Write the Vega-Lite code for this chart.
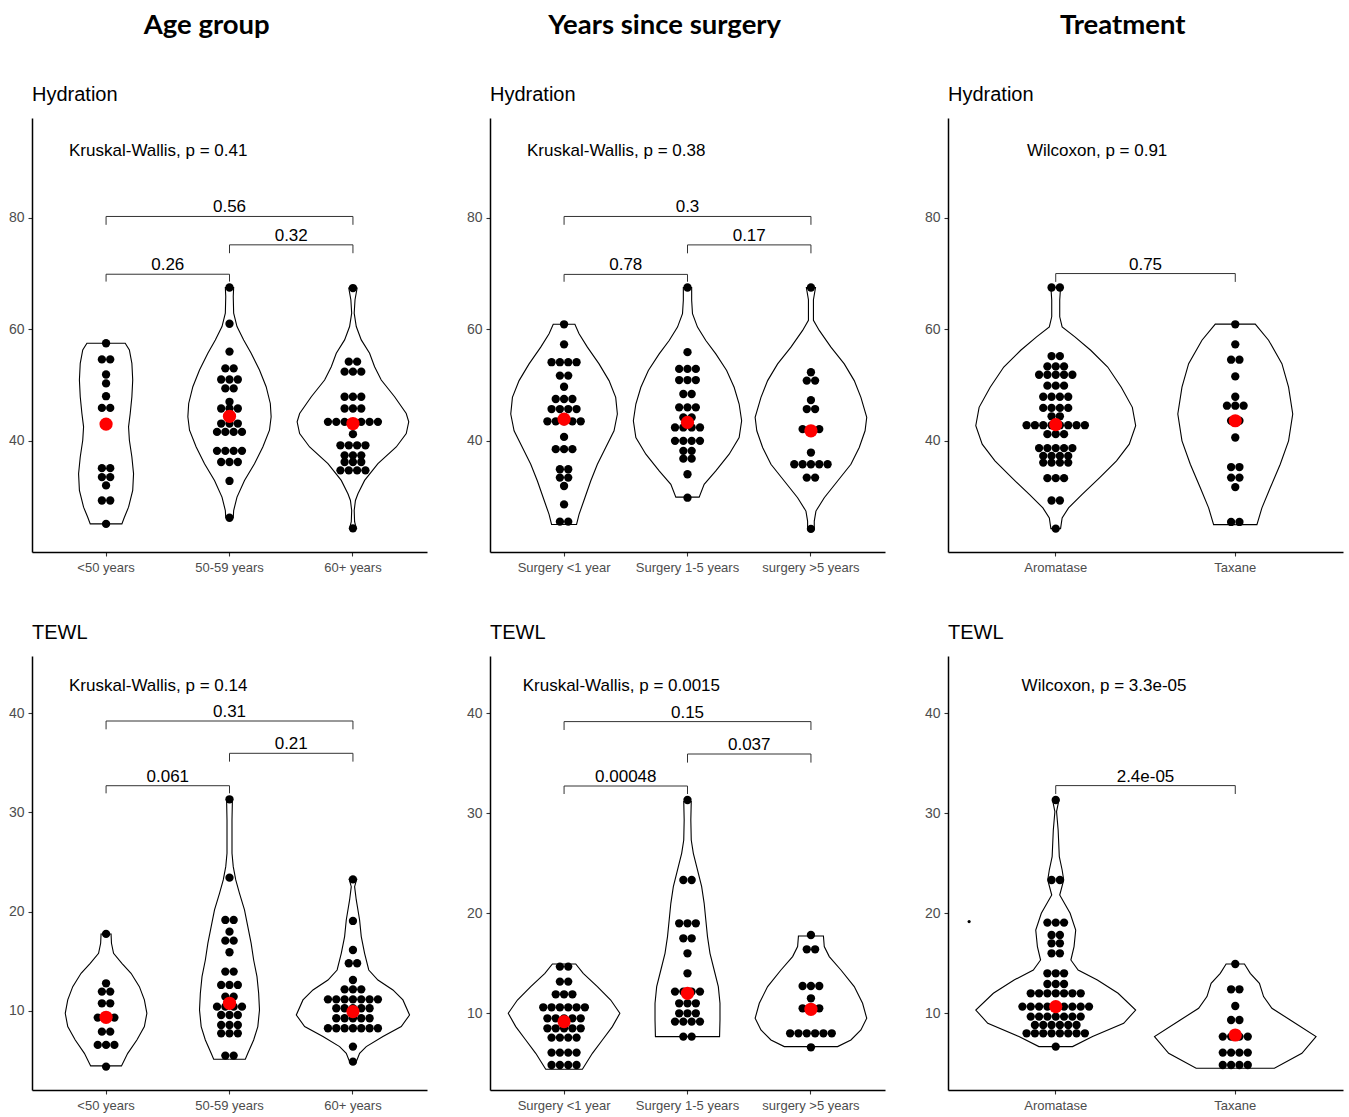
{
"$schema": "https://vega.github.io/schema/vega-lite/v6.json",
"padding": {"left": 8, "top": 11, "right": 5, "bottom": 5},
"config": {
  "view": {"stroke": null},
  "font": "Liberation Sans",
  "axis": {"grid": false, "domainColor": "#000", "domainWidth": 1.5, "tickColor": "#333", "tickSize": 4, "tickWidth": 1.1, "labelColor": "#4d4d4d", "labelFontSize": 13, "labelFont": "Liberation Sans"},
  "axisX": {"labelPadding": 5, "labelAngle": 0},
  "axisY": {"labelPadding": 4, "labelFontSize": 14},
  "title": {"font": "Liberation Sans", "fontSize": 20, "fontWeight": "normal", "color": "#000", "anchor": "start", "frame": "group", "offset": 13}
},
"datasets": {
"violin": [
{"p":"AH","g":"<50 years","i":0,"y":25.1,"r":0,"l":0},
{"p":"AH","g":"<50 years","i":1,"y":25.1,"r":1.9,"l":-1.9},
{"p":"AH","g":"<50 years","i":2,"y":26.3,"r":2.2,"l":-2.2},
{"p":"AH","g":"<50 years","i":3,"y":28.1,"r":2.7,"l":-2.7},
{"p":"AH","g":"<50 years","i":4,"y":31.1,"r":3.2,"l":-3.2},
{"p":"AH","g":"<50 years","i":5,"y":34.1,"r":3.3,"l":-3.3},
{"p":"AH","g":"<50 years","i":6,"y":37.1,"r":3.1,"l":-3.1},
{"p":"AH","g":"<50 years","i":7,"y":40.1,"r":2.8,"l":-2.8},
{"p":"AH","g":"<50 years","i":8,"y":42.5,"r":2.7,"l":-2.7},
{"p":"AH","g":"<50 years","i":9,"y":44.9,"r":2.9,"l":-2.9},
{"p":"AH","g":"<50 years","i":10,"y":47.9,"r":3.1,"l":-3.1},
{"p":"AH","g":"<50 years","i":11,"y":50.9,"r":3.2,"l":-3.2},
{"p":"AH","g":"<50 years","i":12,"y":53.9,"r":3.1,"l":-3.1},
{"p":"AH","g":"<50 years","i":13,"y":56.3,"r":2.8,"l":-2.8},
{"p":"AH","g":"<50 years","i":14,"y":57.5,"r":2.3,"l":-2.3},
{"p":"AH","g":"<50 years","i":15,"y":57.5,"r":0,"l":0},
{"p":"AH","g":"50-59 years","i":0,"y":26.2,"r":0,"l":0},
{"p":"AH","g":"50-59 years","i":1,"y":26.2,"r":0.45,"l":-0.45},
{"p":"AH","g":"50-59 years","i":2,"y":27.5,"r":0.5,"l":-0.5},
{"p":"AH","g":"50-59 years","i":3,"y":29.9,"r":0.9,"l":-0.9},
{"p":"AH","g":"50-59 years","i":4,"y":32.9,"r":1.8,"l":-1.8},
{"p":"AH","g":"50-59 years","i":5,"y":35.9,"r":3.0,"l":-3.0},
{"p":"AH","g":"50-59 years","i":6,"y":38.9,"r":4.0,"l":-4.0},
{"p":"AH","g":"50-59 years","i":7,"y":41.9,"r":4.8,"l":-4.8},
{"p":"AH","g":"50-59 years","i":8,"y":44.3,"r":5.0,"l":-5.0},
{"p":"AH","g":"50-59 years","i":9,"y":46.7,"r":4.9,"l":-4.9},
{"p":"AH","g":"50-59 years","i":10,"y":49.7,"r":4.4,"l":-4.4},
{"p":"AH","g":"50-59 years","i":11,"y":52.7,"r":3.6,"l":-3.6},
{"p":"AH","g":"50-59 years","i":12,"y":55.7,"r":2.6,"l":-2.6},
{"p":"AH","g":"50-59 years","i":13,"y":58.1,"r":1.7,"l":-1.7},
{"p":"AH","g":"50-59 years","i":14,"y":60.5,"r":0.9,"l":-0.9},
{"p":"AH","g":"50-59 years","i":15,"y":62.9,"r":0.5,"l":-0.5},
{"p":"AH","g":"50-59 years","i":16,"y":65.9,"r":0.45,"l":-0.45},
{"p":"AH","g":"50-59 years","i":17,"y":67.5,"r":0.5,"l":-0.5},
{"p":"AH","g":"50-59 years","i":18,"y":67.5,"r":0,"l":0},
{"p":"AH","g":"60+ years","i":0,"y":24.3,"r":0,"l":0},
{"p":"AH","g":"60+ years","i":1,"y":24.3,"r":0.4,"l":-0.4},
{"p":"AH","g":"60+ years","i":2,"y":25.5,"r":0.2,"l":-0.2},
{"p":"AH","g":"60+ years","i":3,"y":27.5,"r":0.15,"l":-0.15},
{"p":"AH","g":"60+ years","i":4,"y":29.3,"r":0.3,"l":-0.3},
{"p":"AH","g":"60+ years","i":5,"y":30.5,"r":0.6,"l":-0.6},
{"p":"AH","g":"60+ years","i":6,"y":32.9,"r":1.4,"l":-1.4},
{"p":"AH","g":"60+ years","i":7,"y":35.9,"r":3.0,"l":-3.0},
{"p":"AH","g":"60+ years","i":8,"y":38.9,"r":5.2,"l":-5.2},
{"p":"AH","g":"60+ years","i":9,"y":41.3,"r":6.4,"l":-6.4},
{"p":"AH","g":"60+ years","i":10,"y":43.4,"r":6.7,"l":-6.7},
{"p":"AH","g":"60+ years","i":11,"y":44.9,"r":6.4,"l":-6.4},
{"p":"AH","g":"60+ years","i":12,"y":47.9,"r":5.0,"l":-5.0},
{"p":"AH","g":"60+ years","i":13,"y":50.9,"r":3.4,"l":-3.4},
{"p":"AH","g":"60+ years","i":14,"y":53.3,"r":2.6,"l":-2.6},
{"p":"AH","g":"60+ years","i":15,"y":55.7,"r":2.0,"l":-2.0},
{"p":"AH","g":"60+ years","i":16,"y":58.1,"r":1.0,"l":-1.0},
{"p":"AH","g":"60+ years","i":17,"y":60.5,"r":0.4,"l":-0.4},
{"p":"AH","g":"60+ years","i":18,"y":62.9,"r":0.15,"l":-0.15},
{"p":"AH","g":"60+ years","i":19,"y":65.3,"r":0.25,"l":-0.25},
{"p":"AH","g":"60+ years","i":20,"y":67.4,"r":0.5,"l":-0.5},
{"p":"AH","g":"60+ years","i":21,"y":67.4,"r":0,"l":0},
{"p":"AT","g":"<50 years","i":0,"y":4.42,"r":0,"l":0},
{"p":"AT","g":"<50 years","i":1,"y":4.42,"r":1.85,"l":-1.85},
{"p":"AT","g":"<50 years","i":2,"y":5.69,"r":2.6,"l":-2.6},
{"p":"AT","g":"<50 years","i":3,"y":7.04,"r":3.7,"l":-3.7},
{"p":"AT","g":"<50 years","i":4,"y":8.39,"r":4.6,"l":-4.6},
{"p":"AT","g":"<50 years","i":5,"y":9.73,"r":4.9,"l":-4.9},
{"p":"AT","g":"<50 years","i":6,"y":11.08,"r":4.6,"l":-4.6},
{"p":"AT","g":"<50 years","i":7,"y":12.42,"r":4.0,"l":-4.0},
{"p":"AT","g":"<50 years","i":8,"y":13.77,"r":3.0,"l":-3.0},
{"p":"AT","g":"<50 years","i":9,"y":14.78,"r":1.9,"l":-1.9},
{"p":"AT","g":"<50 years","i":10,"y":15.79,"r":0.9,"l":-0.9},
{"p":"AT","g":"<50 years","i":11,"y":16.8,"r":0.65,"l":-0.65},
{"p":"AT","g":"<50 years","i":12,"y":17.74,"r":0.6,"l":-0.6},
{"p":"AT","g":"<50 years","i":13,"y":17.74,"r":0,"l":0},
{"p":"AT","g":"50-59 years","i":0,"y":5.09,"r":0,"l":0},
{"p":"AT","g":"50-59 years","i":1,"y":5.09,"r":1.9,"l":-1.9},
{"p":"AT","g":"50-59 years","i":2,"y":5.69,"r":2.2,"l":-2.2},
{"p":"AT","g":"50-59 years","i":3,"y":7.04,"r":2.9,"l":-2.9},
{"p":"AT","g":"50-59 years","i":4,"y":8.39,"r":3.4,"l":-3.4},
{"p":"AT","g":"50-59 years","i":5,"y":10.07,"r":3.6,"l":-3.6},
{"p":"AT","g":"50-59 years","i":6,"y":11.75,"r":3.5,"l":-3.5},
{"p":"AT","g":"50-59 years","i":7,"y":13.43,"r":3.3,"l":-3.3},
{"p":"AT","g":"50-59 years","i":8,"y":15.11,"r":2.9,"l":-2.9},
{"p":"AT","g":"50-59 years","i":9,"y":16.79,"r":2.6,"l":-2.6},
{"p":"AT","g":"50-59 years","i":10,"y":18.48,"r":2.2,"l":-2.2},
{"p":"AT","g":"50-59 years","i":11,"y":20.16,"r":1.8,"l":-1.8},
{"p":"AT","g":"50-59 years","i":12,"y":21.84,"r":1.2,"l":-1.2},
{"p":"AT","g":"50-59 years","i":13,"y":23.19,"r":0.75,"l":-0.75},
{"p":"AT","g":"50-59 years","i":14,"y":24.53,"r":0.45,"l":-0.45},
{"p":"AT","g":"50-59 years","i":15,"y":25.88,"r":0.3,"l":-0.3},
{"p":"AT","g":"50-59 years","i":16,"y":29.24,"r":0.3,"l":-0.3},
{"p":"AT","g":"50-59 years","i":17,"y":31.33,"r":0.35,"l":-0.35},
{"p":"AT","g":"50-59 years","i":18,"y":31.33,"r":0,"l":0},
{"p":"AT","g":"60+ years","i":0,"y":4.85,"r":0,"l":0},
{"p":"AT","g":"60+ years","i":1,"y":4.85,"r":0.4,"l":-0.4},
{"p":"AT","g":"60+ years","i":2,"y":5.69,"r":0.8,"l":-0.8},
{"p":"AT","g":"60+ years","i":3,"y":6.37,"r":1.6,"l":-1.6},
{"p":"AT","g":"60+ years","i":4,"y":7.38,"r":3.6,"l":-3.6},
{"p":"AT","g":"60+ years","i":5,"y":8.39,"r":5.8,"l":-5.8},
{"p":"AT","g":"60+ years","i":6,"y":9.56,"r":6.8,"l":-6.8},
{"p":"AT","g":"60+ years","i":7,"y":11.08,"r":6.0,"l":-6.0},
{"p":"AT","g":"60+ years","i":8,"y":12.09,"r":4.8,"l":-4.8},
{"p":"AT","g":"60+ years","i":9,"y":13.09,"r":3.0,"l":-3.0},
{"p":"AT","g":"60+ years","i":10,"y":14.1,"r":1.9,"l":-1.9},
{"p":"AT","g":"60+ years","i":11,"y":15.79,"r":1.4,"l":-1.4},
{"p":"AT","g":"60+ years","i":12,"y":17.47,"r":1.0,"l":-1.0},
{"p":"AT","g":"60+ years","i":13,"y":19.15,"r":0.8,"l":-0.8},
{"p":"AT","g":"60+ years","i":14,"y":21.17,"r":0.4,"l":-0.4},
{"p":"AT","g":"60+ years","i":15,"y":22.51,"r":0.2,"l":-0.2},
{"p":"AT","g":"60+ years","i":16,"y":23.25,"r":0.45,"l":-0.45},
{"p":"AT","g":"60+ years","i":17,"y":23.25,"r":0,"l":0},
{"p":"SH","g":"Surgery <1 year","i":0,"y":25.0,"r":0,"l":0},
{"p":"SH","g":"Surgery <1 year","i":1,"y":25.0,"r":1.5,"l":-1.5},
{"p":"SH","g":"Surgery <1 year","i":2,"y":26.8,"r":1.8,"l":-1.8},
{"p":"SH","g":"Surgery <1 year","i":3,"y":29.8,"r":2.5,"l":-2.5},
{"p":"SH","g":"Surgery <1 year","i":4,"y":32.8,"r":3.2,"l":-3.2},
{"p":"SH","g":"Surgery <1 year","i":5,"y":35.8,"r":4.0,"l":-4.0},
{"p":"SH","g":"Surgery <1 year","i":6,"y":38.8,"r":5.0,"l":-5.0},
{"p":"SH","g":"Surgery <1 year","i":7,"y":41.8,"r":6.0,"l":-6.0},
{"p":"SH","g":"Surgery <1 year","i":8,"y":44.8,"r":6.4,"l":-6.4},
{"p":"SH","g":"Surgery <1 year","i":9,"y":47.8,"r":6.2,"l":-6.2},
{"p":"SH","g":"Surgery <1 year","i":10,"y":50.8,"r":5.4,"l":-5.4},
{"p":"SH","g":"Surgery <1 year","i":11,"y":53.8,"r":4.2,"l":-4.2},
{"p":"SH","g":"Surgery <1 year","i":12,"y":56.8,"r":2.8,"l":-2.8},
{"p":"SH","g":"Surgery <1 year","i":13,"y":59.2,"r":1.8,"l":-1.8},
{"p":"SH","g":"Surgery <1 year","i":14,"y":60.9,"r":1.3,"l":-1.3},
{"p":"SH","g":"Surgery <1 year","i":15,"y":60.9,"r":0,"l":0},
{"p":"SH","g":"Surgery 1-5 years","i":0,"y":29.9,"r":0,"l":0},
{"p":"SH","g":"Surgery 1-5 years","i":1,"y":29.9,"r":1.4,"l":-1.4},
{"p":"SH","g":"Surgery 1-5 years","i":2,"y":32.2,"r":2.0,"l":-2.0},
{"p":"SH","g":"Surgery 1-5 years","i":3,"y":34.6,"r":3.4,"l":-3.4},
{"p":"SH","g":"Surgery 1-5 years","i":4,"y":37.6,"r":5.0,"l":-5.0},
{"p":"SH","g":"Surgery 1-5 years","i":5,"y":40.6,"r":6.2,"l":-6.2},
{"p":"SH","g":"Surgery 1-5 years","i":6,"y":43.6,"r":6.5,"l":-6.5},
{"p":"SH","g":"Surgery 1-5 years","i":7,"y":46.6,"r":6.2,"l":-6.2},
{"p":"SH","g":"Surgery 1-5 years","i":8,"y":49.6,"r":5.6,"l":-5.6},
{"p":"SH","g":"Surgery 1-5 years","i":9,"y":52.6,"r":4.7,"l":-4.7},
{"p":"SH","g":"Surgery 1-5 years","i":10,"y":55.6,"r":3.4,"l":-3.4},
{"p":"SH","g":"Surgery 1-5 years","i":11,"y":58.0,"r":2.2,"l":-2.2},
{"p":"SH","g":"Surgery 1-5 years","i":12,"y":60.4,"r":1.2,"l":-1.2},
{"p":"SH","g":"Surgery 1-5 years","i":13,"y":62.8,"r":0.6,"l":-0.6},
{"p":"SH","g":"Surgery 1-5 years","i":14,"y":65.2,"r":0.5,"l":-0.5},
{"p":"SH","g":"Surgery 1-5 years","i":15,"y":67.5,"r":0.5,"l":-0.5},
{"p":"SH","g":"Surgery 1-5 years","i":16,"y":67.5,"r":0,"l":0},
{"p":"SH","g":"surgery >5 years","i":0,"y":24.2,"r":0,"l":0},
{"p":"SH","g":"surgery >5 years","i":1,"y":24.2,"r":0.4,"l":-0.4},
{"p":"SH","g":"surgery >5 years","i":2,"y":25.6,"r":0.4,"l":-0.4},
{"p":"SH","g":"surgery >5 years","i":3,"y":27.4,"r":0.6,"l":-0.6},
{"p":"SH","g":"surgery >5 years","i":4,"y":29.8,"r":1.6,"l":-1.6},
{"p":"SH","g":"surgery >5 years","i":5,"y":32.8,"r":3.2,"l":-3.2},
{"p":"SH","g":"surgery >5 years","i":6,"y":35.8,"r":4.8,"l":-4.8},
{"p":"SH","g":"surgery >5 years","i":7,"y":38.8,"r":5.8,"l":-5.8},
{"p":"SH","g":"surgery >5 years","i":8,"y":41.8,"r":6.5,"l":-6.5},
{"p":"SH","g":"surgery >5 years","i":9,"y":44.2,"r":6.7,"l":-6.7},
{"p":"SH","g":"surgery >5 years","i":10,"y":47.8,"r":6.0,"l":-6.0},
{"p":"SH","g":"surgery >5 years","i":11,"y":50.8,"r":5.2,"l":-5.2},
{"p":"SH","g":"surgery >5 years","i":12,"y":53.8,"r":4.0,"l":-4.0},
{"p":"SH","g":"surgery >5 years","i":13,"y":56.8,"r":2.4,"l":-2.4},
{"p":"SH","g":"surgery >5 years","i":14,"y":59.8,"r":1.0,"l":-1.0},
{"p":"SH","g":"surgery >5 years","i":15,"y":61.6,"r":0.3,"l":-0.3},
{"p":"SH","g":"surgery >5 years","i":16,"y":65.3,"r":0.3,"l":-0.3},
{"p":"SH","g":"surgery >5 years","i":17,"y":67.5,"r":0.55,"l":-0.55},
{"p":"SH","g":"surgery >5 years","i":18,"y":67.5,"r":0,"l":0},
{"p":"ST","g":"Surgery <1 year","i":0,"y":4.4,"r":0,"l":0},
{"p":"ST","g":"Surgery <1 year","i":1,"y":4.4,"r":2.2,"l":-2.2},
{"p":"ST","g":"Surgery <1 year","i":2,"y":6.0,"r":3.4,"l":-3.4},
{"p":"ST","g":"Surgery <1 year","i":3,"y":7.33,"r":4.6,"l":-4.6},
{"p":"ST","g":"Surgery <1 year","i":4,"y":8.67,"r":5.8,"l":-5.8},
{"p":"ST","g":"Surgery <1 year","i":5,"y":10.0,"r":6.7,"l":-6.7},
{"p":"ST","g":"Surgery <1 year","i":6,"y":11.33,"r":5.6,"l":-5.6},
{"p":"ST","g":"Surgery <1 year","i":7,"y":12.67,"r":4.0,"l":-4.0},
{"p":"ST","g":"Surgery <1 year","i":8,"y":14.0,"r":2.3,"l":-2.3},
{"p":"ST","g":"Surgery <1 year","i":9,"y":14.93,"r":1.4,"l":-1.4},
{"p":"ST","g":"Surgery <1 year","i":10,"y":14.93,"r":0,"l":0},
{"p":"ST","g":"Surgery 1-5 years","i":0,"y":7.67,"r":0,"l":0},
{"p":"ST","g":"Surgery 1-5 years","i":1,"y":7.67,"r":3.85,"l":-3.85},
{"p":"ST","g":"Surgery 1-5 years","i":2,"y":9.33,"r":3.9,"l":-3.9},
{"p":"ST","g":"Surgery 1-5 years","i":3,"y":11.0,"r":3.9,"l":-3.9},
{"p":"ST","g":"Surgery 1-5 years","i":4,"y":12.67,"r":3.7,"l":-3.7},
{"p":"ST","g":"Surgery 1-5 years","i":5,"y":14.33,"r":3.2,"l":-3.2},
{"p":"ST","g":"Surgery 1-5 years","i":6,"y":16.0,"r":2.7,"l":-2.7},
{"p":"ST","g":"Surgery 1-5 years","i":7,"y":17.67,"r":2.4,"l":-2.4},
{"p":"ST","g":"Surgery 1-5 years","i":8,"y":19.33,"r":2.2,"l":-2.2},
{"p":"ST","g":"Surgery 1-5 years","i":9,"y":21.0,"r":2.0,"l":-2.0},
{"p":"ST","g":"Surgery 1-5 years","i":10,"y":22.67,"r":1.7,"l":-1.7},
{"p":"ST","g":"Surgery 1-5 years","i":11,"y":24.67,"r":1.1,"l":-1.1},
{"p":"ST","g":"Surgery 1-5 years","i":12,"y":26.0,"r":0.7,"l":-0.7},
{"p":"ST","g":"Surgery 1-5 years","i":13,"y":27.33,"r":0.45,"l":-0.45},
{"p":"ST","g":"Surgery 1-5 years","i":14,"y":29.33,"r":0.4,"l":-0.4},
{"p":"ST","g":"Surgery 1-5 years","i":15,"y":31.17,"r":0.45,"l":-0.45},
{"p":"ST","g":"Surgery 1-5 years","i":16,"y":31.17,"r":0,"l":0},
{"p":"ST","g":"surgery >5 years","i":0,"y":6.67,"r":0,"l":0},
{"p":"ST","g":"surgery >5 years","i":1,"y":6.67,"r":3.2,"l":-3.2},
{"p":"ST","g":"surgery >5 years","i":2,"y":7.33,"r":4.8,"l":-4.8},
{"p":"ST","g":"surgery >5 years","i":3,"y":8.33,"r":6.0,"l":-6.0},
{"p":"ST","g":"surgery >5 years","i":4,"y":9.5,"r":6.7,"l":-6.7},
{"p":"ST","g":"surgery >5 years","i":5,"y":11.0,"r":6.2,"l":-6.2},
{"p":"ST","g":"surgery >5 years","i":6,"y":12.67,"r":5.2,"l":-5.2},
{"p":"ST","g":"surgery >5 years","i":7,"y":14.33,"r":3.6,"l":-3.6},
{"p":"ST","g":"surgery >5 years","i":8,"y":15.67,"r":2.2,"l":-2.2},
{"p":"ST","g":"surgery >5 years","i":9,"y":16.67,"r":1.6,"l":-1.6},
{"p":"ST","g":"surgery >5 years","i":10,"y":17.73,"r":1.5,"l":-1.5},
{"p":"ST","g":"surgery >5 years","i":11,"y":17.73,"r":0,"l":0},
{"p":"TH","g":"Aromatase","i":0,"y":24.25,"r":0,"l":0},
{"p":"TH","g":"Aromatase","i":1,"y":24.25,"r":0.58,"l":-0.58},
{"p":"TH","g":"Aromatase","i":2,"y":26.17,"r":0.77,"l":-0.77},
{"p":"TH","g":"Aromatase","i":3,"y":27.97,"r":1.54,"l":-1.54},
{"p":"TH","g":"Aromatase","i":4,"y":30.38,"r":3.17,"l":-3.17},
{"p":"TH","g":"Aromatase","i":5,"y":33.39,"r":5.28,"l":-5.28},
{"p":"TH","g":"Aromatase","i":6,"y":36.39,"r":7.3,"l":-7.3},
{"p":"TH","g":"Aromatase","i":7,"y":39.4,"r":8.83,"l":-8.83},
{"p":"TH","g":"Aromatase","i":8,"y":42.71,"r":9.6,"l":-9.6},
{"p":"TH","g":"Aromatase","i":9,"y":46.01,"r":9.2,"l":-9.2},
{"p":"TH","g":"Aromatase","i":10,"y":49.62,"r":7.87,"l":-7.87},
{"p":"TH","g":"Aromatase","i":11,"y":53.23,"r":6.24,"l":-6.24},
{"p":"TH","g":"Aromatase","i":12,"y":56.24,"r":4.2,"l":-4.2},
{"p":"TH","g":"Aromatase","i":13,"y":58.64,"r":2.3,"l":-2.3},
{"p":"TH","g":"Aromatase","i":14,"y":60.44,"r":0.77,"l":-0.77},
{"p":"TH","g":"Aromatase","i":15,"y":62.25,"r":0.48,"l":-0.48},
{"p":"TH","g":"Aromatase","i":16,"y":65.26,"r":0.48,"l":-0.48},
{"p":"TH","g":"Aromatase","i":17,"y":67.54,"r":0.58,"l":-0.58},
{"p":"TH","g":"Aromatase","i":18,"y":67.54,"r":0,"l":0},
{"p":"TH","g":"Taxane","i":0,"y":24.97,"r":0,"l":0},
{"p":"TH","g":"Taxane","i":1,"y":24.97,"r":2.6,"l":-2.6},
{"p":"TH","g":"Taxane","i":2,"y":27.97,"r":3.2,"l":-3.2},
{"p":"TH","g":"Taxane","i":3,"y":31.58,"r":4.2,"l":-4.2},
{"p":"TH","g":"Taxane","i":4,"y":35.79,"r":5.4,"l":-5.4},
{"p":"TH","g":"Taxane","i":5,"y":40.0,"r":6.4,"l":-6.4},
{"p":"TH","g":"Taxane","i":6,"y":44.81,"r":6.9,"l":-6.9},
{"p":"TH","g":"Taxane","i":7,"y":49.62,"r":6.4,"l":-6.4},
{"p":"TH","g":"Taxane","i":8,"y":53.83,"r":5.6,"l":-5.6},
{"p":"TH","g":"Taxane","i":9,"y":58.04,"r":4.0,"l":-4.0},
{"p":"TH","g":"Taxane","i":10,"y":60.93,"r":2.4,"l":-2.4},
{"p":"TH","g":"Taxane","i":11,"y":60.93,"r":0,"l":0},
{"p":"TT","g":"Aromatase","i":0,"y":6.67,"r":0,"l":0},
{"p":"TT","g":"Aromatase","i":1,"y":6.67,"r":2.02,"l":-2.02},
{"p":"TT","g":"Aromatase","i":2,"y":7.67,"r":4.42,"l":-4.42},
{"p":"TT","g":"Aromatase","i":3,"y":9.0,"r":8.16,"l":-8.16},
{"p":"TT","g":"Aromatase","i":4,"y":10.33,"r":9.6,"l":-9.6},
{"p":"TT","g":"Aromatase","i":5,"y":12.0,"r":7.49,"l":-7.49},
{"p":"TT","g":"Aromatase","i":6,"y":13.33,"r":5.0,"l":-5.0},
{"p":"TT","g":"Aromatase","i":7,"y":14.33,"r":2.69,"l":-2.69},
{"p":"TT","g":"Aromatase","i":8,"y":15.33,"r":1.82,"l":-1.82},
{"p":"TT","g":"Aromatase","i":9,"y":16.67,"r":2.2,"l":-2.2},
{"p":"TT","g":"Aromatase","i":10,"y":18.33,"r":2.4,"l":-2.4},
{"p":"TT","g":"Aromatase","i":11,"y":20.0,"r":1.73,"l":-1.73},
{"p":"TT","g":"Aromatase","i":12,"y":21.83,"r":0.48,"l":-0.48},
{"p":"TT","g":"Aromatase","i":13,"y":23.33,"r":0.96,"l":-0.96},
{"p":"TT","g":"Aromatase","i":14,"y":24.33,"r":0.77,"l":-0.77},
{"p":"TT","g":"Aromatase","i":15,"y":25.67,"r":0.43,"l":-0.43},
{"p":"TT","g":"Aromatase","i":16,"y":28.33,"r":0.29,"l":-0.29},
{"p":"TT","g":"Aromatase","i":17,"y":30.17,"r":0.1,"l":-0.1},
{"p":"TT","g":"Aromatase","i":18,"y":31.33,"r":0.38,"l":-0.38},
{"p":"TT","g":"Aromatase","i":19,"y":31.33,"r":0,"l":0},
{"p":"TT","g":"Taxane","i":0,"y":4.5,"r":0,"l":0},
{"p":"TT","g":"Taxane","i":1,"y":4.5,"r":4.7,"l":-4.7},
{"p":"TT","g":"Taxane","i":2,"y":6.0,"r":8.0,"l":-8.0},
{"p":"TT","g":"Taxane","i":3,"y":7.67,"r":9.7,"l":-9.7},
{"p":"TT","g":"Taxane","i":4,"y":9.33,"r":6.6,"l":-6.6},
{"p":"TT","g":"Taxane","i":5,"y":10.5,"r":4.4,"l":-4.4},
{"p":"TT","g":"Taxane","i":6,"y":11.67,"r":3.4,"l":-3.4},
{"p":"TT","g":"Taxane","i":7,"y":13.0,"r":2.9,"l":-2.9},
{"p":"TT","g":"Taxane","i":8,"y":14.0,"r":1.8,"l":-1.8},
{"p":"TT","g":"Taxane","i":9,"y":14.93,"r":1.1,"l":-1.1},
{"p":"TT","g":"Taxane","i":10,"y":14.93,"r":0,"l":0}
],
"dots": [
{"p":"AH","g":"<50 years","y":57.5,"k":0},
{"p":"AH","g":"<50 years","y":54.6,"k":-0.5},{"p":"AH","g":"<50 years","y":54.6,"k":0.5},
{"p":"AH","g":"<50 years","y":51.9,"k":0},
{"p":"AH","g":"<50 years","y":50.3,"k":0},
{"p":"AH","g":"<50 years","y":48.0,"k":0},
{"p":"AH","g":"<50 years","y":45.9,"k":-0.5},{"p":"AH","g":"<50 years","y":45.9,"k":0.5},
{"p":"AH","g":"<50 years","y":35.1,"k":-0.5},{"p":"AH","g":"<50 years","y":35.1,"k":0.5},
{"p":"AH","g":"<50 years","y":33.5,"k":-0.5},{"p":"AH","g":"<50 years","y":33.5,"k":0.5},
{"p":"AH","g":"<50 years","y":32.0,"k":0},
{"p":"AH","g":"<50 years","y":29.3,"k":-0.5},{"p":"AH","g":"<50 years","y":29.3,"k":0.5},
{"p":"AH","g":"<50 years","y":25.1,"k":0},
{"p":"AH","g":"50-59 years","y":67.5,"k":0},
{"p":"AH","g":"50-59 years","y":61.0,"k":0},
{"p":"AH","g":"50-59 years","y":56.0,"k":0},
{"p":"AH","g":"50-59 years","y":53.0,"k":-0.5},{"p":"AH","g":"50-59 years","y":53.0,"k":0.5},
{"p":"AH","g":"50-59 years","y":51.0,"k":-1},{"p":"AH","g":"50-59 years","y":51.0,"k":0},{"p":"AH","g":"50-59 years","y":51.0,"k":1},
{"p":"AH","g":"50-59 years","y":49.4,"k":-0.5},{"p":"AH","g":"50-59 years","y":49.4,"k":0.5},
{"p":"AH","g":"50-59 years","y":47.0,"k":0},
{"p":"AH","g":"50-59 years","y":45.8,"k":-1},{"p":"AH","g":"50-59 years","y":45.8,"k":0},{"p":"AH","g":"50-59 years","y":45.8,"k":1},
{"p":"AH","g":"50-59 years","y":43.1,"k":-1},{"p":"AH","g":"50-59 years","y":43.1,"k":0},{"p":"AH","g":"50-59 years","y":43.1,"k":1},
{"p":"AH","g":"50-59 years","y":41.6,"k":-1.5},{"p":"AH","g":"50-59 years","y":41.6,"k":-0.5},{"p":"AH","g":"50-59 years","y":41.6,"k":0.5},{"p":"AH","g":"50-59 years","y":41.6,"k":1.5},
{"p":"AH","g":"50-59 years","y":38.2,"k":-1.5},{"p":"AH","g":"50-59 years","y":38.2,"k":-0.5},{"p":"AH","g":"50-59 years","y":38.2,"k":0.5},{"p":"AH","g":"50-59 years","y":38.2,"k":1.5},
{"p":"AH","g":"50-59 years","y":36.2,"k":-1},{"p":"AH","g":"50-59 years","y":36.2,"k":0},{"p":"AH","g":"50-59 years","y":36.2,"k":1},
{"p":"AH","g":"50-59 years","y":32.8,"k":0},
{"p":"AH","g":"50-59 years","y":26.2,"k":0},
{"p":"AH","g":"60+ years","y":67.4,"k":0},
{"p":"AH","g":"60+ years","y":54.2,"k":-0.5},{"p":"AH","g":"60+ years","y":54.2,"k":0.5},
{"p":"AH","g":"60+ years","y":52.4,"k":-1},{"p":"AH","g":"60+ years","y":52.4,"k":0},{"p":"AH","g":"60+ years","y":52.4,"k":1},
{"p":"AH","g":"60+ years","y":47.9,"k":-1},{"p":"AH","g":"60+ years","y":47.9,"k":0},{"p":"AH","g":"60+ years","y":47.9,"k":1},
{"p":"AH","g":"60+ years","y":45.8,"k":-1},{"p":"AH","g":"60+ years","y":45.8,"k":0},{"p":"AH","g":"60+ years","y":45.8,"k":1},
{"p":"AH","g":"60+ years","y":43.4,"k":-3},{"p":"AH","g":"60+ years","y":43.4,"k":-2},{"p":"AH","g":"60+ years","y":43.4,"k":-1},{"p":"AH","g":"60+ years","y":43.4,"k":0},{"p":"AH","g":"60+ years","y":43.4,"k":1},{"p":"AH","g":"60+ years","y":43.4,"k":2},{"p":"AH","g":"60+ years","y":43.4,"k":3},
{"p":"AH","g":"60+ years","y":41.2,"k":0},
{"p":"AH","g":"60+ years","y":39.2,"k":-1.5},{"p":"AH","g":"60+ years","y":39.2,"k":-0.5},{"p":"AH","g":"60+ years","y":39.2,"k":0.5},{"p":"AH","g":"60+ years","y":39.2,"k":1.5},
{"p":"AH","g":"60+ years","y":37.4,"k":-1},{"p":"AH","g":"60+ years","y":37.4,"k":0},{"p":"AH","g":"60+ years","y":37.4,"k":1},
{"p":"AH","g":"60+ years","y":36.2,"k":-1},{"p":"AH","g":"60+ years","y":36.2,"k":0},{"p":"AH","g":"60+ years","y":36.2,"k":1},
{"p":"AH","g":"60+ years","y":34.7,"k":-1.5},{"p":"AH","g":"60+ years","y":34.7,"k":-0.5},{"p":"AH","g":"60+ years","y":34.7,"k":0.5},{"p":"AH","g":"60+ years","y":34.7,"k":1.5},
{"p":"AH","g":"60+ years","y":24.3,"k":0},
{"p":"AT","g":"<50 years","y":17.74,"k":0},
{"p":"AT","g":"<50 years","y":12.76,"k":0},
{"p":"AT","g":"<50 years","y":11.92,"k":-0.5},{"p":"AT","g":"<50 years","y":11.92,"k":0.5},
{"p":"AT","g":"<50 years","y":10.74,"k":-0.5},{"p":"AT","g":"<50 years","y":10.74,"k":0.5},
{"p":"AT","g":"<50 years","y":9.3,"k":-1},{"p":"AT","g":"<50 years","y":9.3,"k":0},{"p":"AT","g":"<50 years","y":9.3,"k":1},
{"p":"AT","g":"<50 years","y":7.88,"k":-0.5},{"p":"AT","g":"<50 years","y":7.88,"k":0.5},
{"p":"AT","g":"<50 years","y":6.54,"k":-1},{"p":"AT","g":"<50 years","y":6.54,"k":0},{"p":"AT","g":"<50 years","y":6.54,"k":1},
{"p":"AT","g":"<50 years","y":4.35,"k":0},
{"p":"AT","g":"50-59 years","y":31.33,"k":0},
{"p":"AT","g":"50-59 years","y":23.42,"k":0},
{"p":"AT","g":"50-59 years","y":19.15,"k":-0.5},{"p":"AT","g":"50-59 years","y":19.15,"k":0.5},
{"p":"AT","g":"50-59 years","y":17.97,"k":0},
{"p":"AT","g":"50-59 years","y":17.06,"k":-0.5},{"p":"AT","g":"50-59 years","y":17.06,"k":0.5},
{"p":"AT","g":"50-59 years","y":15.89,"k":0},
{"p":"AT","g":"50-59 years","y":13.94,"k":-0.5},{"p":"AT","g":"50-59 years","y":13.94,"k":0.5},
{"p":"AT","g":"50-59 years","y":12.59,"k":-1},{"p":"AT","g":"50-59 years","y":12.59,"k":0},{"p":"AT","g":"50-59 years","y":12.59,"k":1},
{"p":"AT","g":"50-59 years","y":11.41,"k":-0.5},{"p":"AT","g":"50-59 years","y":11.41,"k":0.5},
{"p":"AT","g":"50-59 years","y":10.4,"k":-1.5},{"p":"AT","g":"50-59 years","y":10.4,"k":-0.5},{"p":"AT","g":"50-59 years","y":10.4,"k":0.5},{"p":"AT","g":"50-59 years","y":10.4,"k":1.5},
{"p":"AT","g":"50-59 years","y":9.56,"k":-1},{"p":"AT","g":"50-59 years","y":9.56,"k":0},{"p":"AT","g":"50-59 years","y":9.56,"k":1},
{"p":"AT","g":"50-59 years","y":8.55,"k":-1},{"p":"AT","g":"50-59 years","y":8.55,"k":0},{"p":"AT","g":"50-59 years","y":8.55,"k":1},
{"p":"AT","g":"50-59 years","y":7.71,"k":-1},{"p":"AT","g":"50-59 years","y":7.71,"k":0},{"p":"AT","g":"50-59 years","y":7.71,"k":1},
{"p":"AT","g":"50-59 years","y":5.46,"k":-0.5},{"p":"AT","g":"50-59 years","y":5.46,"k":0.5},
{"p":"AT","g":"60+ years","y":23.25,"k":0},
{"p":"AT","g":"60+ years","y":19.05,"k":0},
{"p":"AT","g":"60+ years","y":16.12,"k":0},
{"p":"AT","g":"60+ years","y":14.78,"k":-0.5},{"p":"AT","g":"60+ years","y":14.78,"k":0.5},
{"p":"AT","g":"60+ years","y":13.09,"k":0},
{"p":"AT","g":"60+ years","y":12.15,"k":-1},{"p":"AT","g":"60+ years","y":12.15,"k":0},{"p":"AT","g":"60+ years","y":12.15,"k":1},
{"p":"AT","g":"60+ years","y":11.14,"k":-3},{"p":"AT","g":"60+ years","y":11.14,"k":-2},{"p":"AT","g":"60+ years","y":11.14,"k":-1},{"p":"AT","g":"60+ years","y":11.14,"k":0},{"p":"AT","g":"60+ years","y":11.14,"k":1},{"p":"AT","g":"60+ years","y":11.14,"k":2},{"p":"AT","g":"60+ years","y":11.14,"k":3},
{"p":"AT","g":"60+ years","y":10.24,"k":-2},{"p":"AT","g":"60+ years","y":10.24,"k":-1},{"p":"AT","g":"60+ years","y":10.24,"k":0},{"p":"AT","g":"60+ years","y":10.24,"k":1},{"p":"AT","g":"60+ years","y":10.24,"k":2},
{"p":"AT","g":"60+ years","y":9.23,"k":-2},{"p":"AT","g":"60+ years","y":9.23,"k":-1},{"p":"AT","g":"60+ years","y":9.23,"k":0},{"p":"AT","g":"60+ years","y":9.23,"k":1},{"p":"AT","g":"60+ years","y":9.23,"k":2},
{"p":"AT","g":"60+ years","y":8.22,"k":-3},{"p":"AT","g":"60+ years","y":8.22,"k":-2},{"p":"AT","g":"60+ years","y":8.22,"k":-1},{"p":"AT","g":"60+ years","y":8.22,"k":0},{"p":"AT","g":"60+ years","y":8.22,"k":1},{"p":"AT","g":"60+ years","y":8.22,"k":2},{"p":"AT","g":"60+ years","y":8.22,"k":3},
{"p":"AT","g":"60+ years","y":6.37,"k":0},
{"p":"AT","g":"60+ years","y":4.85,"k":0},
{"p":"SH","g":"Surgery <1 year","y":60.9,"k":0},
{"p":"SH","g":"Surgery <1 year","y":57.3,"k":0},
{"p":"SH","g":"Surgery <1 year","y":54.1,"k":-1.5},{"p":"SH","g":"Surgery <1 year","y":54.1,"k":-0.5},{"p":"SH","g":"Surgery <1 year","y":54.1,"k":0.5},{"p":"SH","g":"Surgery <1 year","y":54.1,"k":1.5},
{"p":"SH","g":"Surgery <1 year","y":51.7,"k":-0.5},{"p":"SH","g":"Surgery <1 year","y":51.7,"k":0.5},
{"p":"SH","g":"Surgery <1 year","y":49.7,"k":0},
{"p":"SH","g":"Surgery <1 year","y":47.5,"k":-1},{"p":"SH","g":"Surgery <1 year","y":47.5,"k":0},{"p":"SH","g":"Surgery <1 year","y":47.5,"k":1},
{"p":"SH","g":"Surgery <1 year","y":45.7,"k":-1.5},{"p":"SH","g":"Surgery <1 year","y":45.7,"k":-0.5},{"p":"SH","g":"Surgery <1 year","y":45.7,"k":0.5},{"p":"SH","g":"Surgery <1 year","y":45.7,"k":1.5},
{"p":"SH","g":"Surgery <1 year","y":43.5,"k":-2},{"p":"SH","g":"Surgery <1 year","y":43.5,"k":-1},{"p":"SH","g":"Surgery <1 year","y":43.5,"k":0},{"p":"SH","g":"Surgery <1 year","y":43.5,"k":1},{"p":"SH","g":"Surgery <1 year","y":43.5,"k":2},
{"p":"SH","g":"Surgery <1 year","y":40.7,"k":0},
{"p":"SH","g":"Surgery <1 year","y":38.5,"k":-1},{"p":"SH","g":"Surgery <1 year","y":38.5,"k":0},{"p":"SH","g":"Surgery <1 year","y":38.5,"k":1},
{"p":"SH","g":"Surgery <1 year","y":34.9,"k":-0.5},{"p":"SH","g":"Surgery <1 year","y":34.9,"k":0.5},
{"p":"SH","g":"Surgery <1 year","y":33.4,"k":-0.5},{"p":"SH","g":"Surgery <1 year","y":33.4,"k":0.5},
{"p":"SH","g":"Surgery <1 year","y":31.9,"k":0},
{"p":"SH","g":"Surgery <1 year","y":28.6,"k":0},
{"p":"SH","g":"Surgery <1 year","y":25.5,"k":-0.5},{"p":"SH","g":"Surgery <1 year","y":25.5,"k":0.5},
{"p":"SH","g":"Surgery 1-5 years","y":67.5,"k":0},
{"p":"SH","g":"Surgery 1-5 years","y":55.9,"k":0},
{"p":"SH","g":"Surgery 1-5 years","y":52.9,"k":-1},{"p":"SH","g":"Surgery 1-5 years","y":52.9,"k":0},{"p":"SH","g":"Surgery 1-5 years","y":52.9,"k":1},
{"p":"SH","g":"Surgery 1-5 years","y":50.9,"k":-1},{"p":"SH","g":"Surgery 1-5 years","y":50.9,"k":0},{"p":"SH","g":"Surgery 1-5 years","y":50.9,"k":1},
{"p":"SH","g":"Surgery 1-5 years","y":48.4,"k":-0.5},{"p":"SH","g":"Surgery 1-5 years","y":48.4,"k":0.5},
{"p":"SH","g":"Surgery 1-5 years","y":46.0,"k":-1},{"p":"SH","g":"Surgery 1-5 years","y":46.0,"k":0},{"p":"SH","g":"Surgery 1-5 years","y":46.0,"k":1},
{"p":"SH","g":"Surgery 1-5 years","y":44.2,"k":-0.5},{"p":"SH","g":"Surgery 1-5 years","y":44.2,"k":0.5},
{"p":"SH","g":"Surgery 1-5 years","y":42.4,"k":-1.5},{"p":"SH","g":"Surgery 1-5 years","y":42.4,"k":-0.5},{"p":"SH","g":"Surgery 1-5 years","y":42.4,"k":0.5},{"p":"SH","g":"Surgery 1-5 years","y":42.4,"k":1.5},
{"p":"SH","g":"Surgery 1-5 years","y":40.0,"k":-1.5},{"p":"SH","g":"Surgery 1-5 years","y":40.0,"k":-0.5},{"p":"SH","g":"Surgery 1-5 years","y":40.0,"k":0.5},{"p":"SH","g":"Surgery 1-5 years","y":40.0,"k":1.5},
{"p":"SH","g":"Surgery 1-5 years","y":38.2,"k":-0.5},{"p":"SH","g":"Surgery 1-5 years","y":38.2,"k":0.5},
{"p":"SH","g":"Surgery 1-5 years","y":36.8,"k":-0.5},{"p":"SH","g":"Surgery 1-5 years","y":36.8,"k":0.5},
{"p":"SH","g":"Surgery 1-5 years","y":34.0,"k":0},
{"p":"SH","g":"Surgery 1-5 years","y":29.8,"k":0},
{"p":"SH","g":"surgery >5 years","y":67.5,"k":0},
{"p":"SH","g":"surgery >5 years","y":52.3,"k":0},
{"p":"SH","g":"surgery >5 years","y":50.8,"k":-0.5},{"p":"SH","g":"surgery >5 years","y":50.8,"k":0.5},
{"p":"SH","g":"surgery >5 years","y":47.3,"k":0},
{"p":"SH","g":"surgery >5 years","y":45.7,"k":-0.5},{"p":"SH","g":"surgery >5 years","y":45.7,"k":0.5},
{"p":"SH","g":"surgery >5 years","y":42.1,"k":-1},{"p":"SH","g":"surgery >5 years","y":42.1,"k":0},{"p":"SH","g":"surgery >5 years","y":42.1,"k":1},
{"p":"SH","g":"surgery >5 years","y":37.9,"k":0},
{"p":"SH","g":"surgery >5 years","y":35.8,"k":-2},{"p":"SH","g":"surgery >5 years","y":35.8,"k":-1},{"p":"SH","g":"surgery >5 years","y":35.8,"k":0},{"p":"SH","g":"surgery >5 years","y":35.8,"k":1},{"p":"SH","g":"surgery >5 years","y":35.8,"k":2},
{"p":"SH","g":"surgery >5 years","y":33.4,"k":-0.5},{"p":"SH","g":"surgery >5 years","y":33.4,"k":0.5},
{"p":"SH","g":"surgery >5 years","y":24.2,"k":0},
{"p":"ST","g":"Surgery <1 year","y":14.67,"k":-0.5},{"p":"ST","g":"Surgery <1 year","y":14.67,"k":0.5},
{"p":"ST","g":"Surgery <1 year","y":13.17,"k":-0.5},{"p":"ST","g":"Surgery <1 year","y":13.17,"k":0.5},
{"p":"ST","g":"Surgery <1 year","y":11.9,"k":-1},{"p":"ST","g":"Surgery <1 year","y":11.9,"k":0},{"p":"ST","g":"Surgery <1 year","y":11.9,"k":1},
{"p":"ST","g":"Surgery <1 year","y":10.6,"k":-2.5},{"p":"ST","g":"Surgery <1 year","y":10.6,"k":-1.5},{"p":"ST","g":"Surgery <1 year","y":10.6,"k":-0.5},{"p":"ST","g":"Surgery <1 year","y":10.6,"k":0.5},{"p":"ST","g":"Surgery <1 year","y":10.6,"k":1.5},{"p":"ST","g":"Surgery <1 year","y":10.6,"k":2.5},
{"p":"ST","g":"Surgery <1 year","y":9.5,"k":-2},{"p":"ST","g":"Surgery <1 year","y":9.5,"k":-1},{"p":"ST","g":"Surgery <1 year","y":9.5,"k":0},{"p":"ST","g":"Surgery <1 year","y":9.5,"k":1},{"p":"ST","g":"Surgery <1 year","y":9.5,"k":2},
{"p":"ST","g":"Surgery <1 year","y":8.5,"k":-2},{"p":"ST","g":"Surgery <1 year","y":8.5,"k":-1},{"p":"ST","g":"Surgery <1 year","y":8.5,"k":0},{"p":"ST","g":"Surgery <1 year","y":8.5,"k":1},{"p":"ST","g":"Surgery <1 year","y":8.5,"k":2},
{"p":"ST","g":"Surgery <1 year","y":7.57,"k":-1.5},{"p":"ST","g":"Surgery <1 year","y":7.57,"k":-0.5},{"p":"ST","g":"Surgery <1 year","y":7.57,"k":0.5},{"p":"ST","g":"Surgery <1 year","y":7.57,"k":1.5},
{"p":"ST","g":"Surgery <1 year","y":6.07,"k":-1.5},{"p":"ST","g":"Surgery <1 year","y":6.07,"k":-0.5},{"p":"ST","g":"Surgery <1 year","y":6.07,"k":0.5},{"p":"ST","g":"Surgery <1 year","y":6.07,"k":1.5},
{"p":"ST","g":"Surgery <1 year","y":4.83,"k":-1.5},{"p":"ST","g":"Surgery <1 year","y":4.83,"k":-0.5},{"p":"ST","g":"Surgery <1 year","y":4.83,"k":0.5},{"p":"ST","g":"Surgery <1 year","y":4.83,"k":1.5},
{"p":"ST","g":"Surgery 1-5 years","y":31.33,"k":0},
{"p":"ST","g":"Surgery 1-5 years","y":23.33,"k":-0.5},{"p":"ST","g":"Surgery 1-5 years","y":23.33,"k":0.5},
{"p":"ST","g":"Surgery 1-5 years","y":19.0,"k":-1},{"p":"ST","g":"Surgery 1-5 years","y":19.0,"k":0},{"p":"ST","g":"Surgery 1-5 years","y":19.0,"k":1},
{"p":"ST","g":"Surgery 1-5 years","y":17.5,"k":-0.5},{"p":"ST","g":"Surgery 1-5 years","y":17.5,"k":0.5},
{"p":"ST","g":"Surgery 1-5 years","y":16.0,"k":0},
{"p":"ST","g":"Surgery 1-5 years","y":14.0,"k":0},
{"p":"ST","g":"Surgery 1-5 years","y":12.17,"k":-1.5},{"p":"ST","g":"Surgery 1-5 years","y":12.17,"k":-0.5},{"p":"ST","g":"Surgery 1-5 years","y":12.17,"k":0.5},{"p":"ST","g":"Surgery 1-5 years","y":12.17,"k":1.5},
{"p":"ST","g":"Surgery 1-5 years","y":11.0,"k":-1},{"p":"ST","g":"Surgery 1-5 years","y":11.0,"k":0},{"p":"ST","g":"Surgery 1-5 years","y":11.0,"k":1},
{"p":"ST","g":"Surgery 1-5 years","y":10.0,"k":-1},{"p":"ST","g":"Surgery 1-5 years","y":10.0,"k":0},{"p":"ST","g":"Surgery 1-5 years","y":10.0,"k":1},
{"p":"ST","g":"Surgery 1-5 years","y":9.17,"k":-1.5},{"p":"ST","g":"Surgery 1-5 years","y":9.17,"k":-0.5},{"p":"ST","g":"Surgery 1-5 years","y":9.17,"k":0.5},{"p":"ST","g":"Surgery 1-5 years","y":9.17,"k":1.5},
{"p":"ST","g":"Surgery 1-5 years","y":7.67,"k":-0.5},{"p":"ST","g":"Surgery 1-5 years","y":7.67,"k":0.5},
{"p":"ST","g":"surgery >5 years","y":17.83,"k":0},
{"p":"ST","g":"surgery >5 years","y":16.4,"k":-0.5},{"p":"ST","g":"surgery >5 years","y":16.4,"k":0.5},
{"p":"ST","g":"surgery >5 years","y":12.73,"k":-1},{"p":"ST","g":"surgery >5 years","y":12.73,"k":0},{"p":"ST","g":"surgery >5 years","y":12.73,"k":1},
{"p":"ST","g":"surgery >5 years","y":11.5,"k":0},
{"p":"ST","g":"surgery >5 years","y":10.5,"k":-1},{"p":"ST","g":"surgery >5 years","y":10.5,"k":0},{"p":"ST","g":"surgery >5 years","y":10.5,"k":1},
{"p":"ST","g":"surgery >5 years","y":8.0,"k":-2.5},{"p":"ST","g":"surgery >5 years","y":8.0,"k":-1.5},{"p":"ST","g":"surgery >5 years","y":8.0,"k":-0.5},{"p":"ST","g":"surgery >5 years","y":8.0,"k":0.5},{"p":"ST","g":"surgery >5 years","y":8.0,"k":1.5},{"p":"ST","g":"surgery >5 years","y":8.0,"k":2.5},
{"p":"ST","g":"surgery >5 years","y":6.6,"k":0},
{"p":"TH","g":"Aromatase","y":67.5,"k":-0.5},{"p":"TH","g":"Aromatase","y":67.5,"k":0.5},
{"p":"TH","g":"Aromatase","y":55.2,"k":-0.5},{"p":"TH","g":"Aromatase","y":55.2,"k":0.5},
{"p":"TH","g":"Aromatase","y":53.35,"k":-1},{"p":"TH","g":"Aromatase","y":53.35,"k":0},{"p":"TH","g":"Aromatase","y":53.35,"k":1},
{"p":"TH","g":"Aromatase","y":51.85,"k":-2},{"p":"TH","g":"Aromatase","y":51.85,"k":-1},{"p":"TH","g":"Aromatase","y":51.85,"k":0},{"p":"TH","g":"Aromatase","y":51.85,"k":1},{"p":"TH","g":"Aromatase","y":51.85,"k":2},
{"p":"TH","g":"Aromatase","y":49.9,"k":-1},{"p":"TH","g":"Aromatase","y":49.9,"k":0},{"p":"TH","g":"Aromatase","y":49.9,"k":1},
{"p":"TH","g":"Aromatase","y":47.9,"k":-1.5},{"p":"TH","g":"Aromatase","y":47.9,"k":-0.5},{"p":"TH","g":"Aromatase","y":47.9,"k":0.5},{"p":"TH","g":"Aromatase","y":47.9,"k":1.5},
{"p":"TH","g":"Aromatase","y":45.9,"k":-1.5},{"p":"TH","g":"Aromatase","y":45.9,"k":-0.5},{"p":"TH","g":"Aromatase","y":45.9,"k":0.5},{"p":"TH","g":"Aromatase","y":45.9,"k":1.5},
{"p":"TH","g":"Aromatase","y":44.4,"k":-0.5},{"p":"TH","g":"Aromatase","y":44.4,"k":0.5},
{"p":"TH","g":"Aromatase","y":42.8,"k":-3.5},{"p":"TH","g":"Aromatase","y":42.8,"k":-2.5},{"p":"TH","g":"Aromatase","y":42.8,"k":-1.5},{"p":"TH","g":"Aromatase","y":42.8,"k":-0.5},{"p":"TH","g":"Aromatase","y":42.8,"k":0.5},{"p":"TH","g":"Aromatase","y":42.8,"k":1.5},{"p":"TH","g":"Aromatase","y":42.8,"k":2.5},{"p":"TH","g":"Aromatase","y":42.8,"k":3.5},
{"p":"TH","g":"Aromatase","y":41.2,"k":-1},{"p":"TH","g":"Aromatase","y":41.2,"k":0},{"p":"TH","g":"Aromatase","y":41.2,"k":1},
{"p":"TH","g":"Aromatase","y":38.7,"k":-2},{"p":"TH","g":"Aromatase","y":38.7,"k":-1},{"p":"TH","g":"Aromatase","y":38.7,"k":0},{"p":"TH","g":"Aromatase","y":38.7,"k":1},{"p":"TH","g":"Aromatase","y":38.7,"k":2},
{"p":"TH","g":"Aromatase","y":37.3,"k":-1.5},{"p":"TH","g":"Aromatase","y":37.3,"k":-0.5},{"p":"TH","g":"Aromatase","y":37.3,"k":0.5},{"p":"TH","g":"Aromatase","y":37.3,"k":1.5},
{"p":"TH","g":"Aromatase","y":36.1,"k":-1.5},{"p":"TH","g":"Aromatase","y":36.1,"k":-0.5},{"p":"TH","g":"Aromatase","y":36.1,"k":0.5},{"p":"TH","g":"Aromatase","y":36.1,"k":1.5},
{"p":"TH","g":"Aromatase","y":33.3,"k":-1},{"p":"TH","g":"Aromatase","y":33.3,"k":0},{"p":"TH","g":"Aromatase","y":33.3,"k":1},
{"p":"TH","g":"Aromatase","y":29.3,"k":-0.5},{"p":"TH","g":"Aromatase","y":29.3,"k":0.5},
{"p":"TH","g":"Aromatase","y":24.25,"k":0},
{"p":"TH","g":"Taxane","y":60.9,"k":0},
{"p":"TH","g":"Taxane","y":57.3,"k":0},
{"p":"TH","g":"Taxane","y":54.55,"k":-0.5},{"p":"TH","g":"Taxane","y":54.55,"k":0.5},
{"p":"TH","g":"Taxane","y":51.55,"k":0},
{"p":"TH","g":"Taxane","y":47.9,"k":0},
{"p":"TH","g":"Taxane","y":46.3,"k":-1},{"p":"TH","g":"Taxane","y":46.3,"k":0},{"p":"TH","g":"Taxane","y":46.3,"k":1},
{"p":"TH","g":"Taxane","y":43.6,"k":-0.5},{"p":"TH","g":"Taxane","y":43.6,"k":0.5},
{"p":"TH","g":"Taxane","y":40.6,"k":0},
{"p":"TH","g":"Taxane","y":35.3,"k":-0.5},{"p":"TH","g":"Taxane","y":35.3,"k":0.5},
{"p":"TH","g":"Taxane","y":33.4,"k":-0.5},{"p":"TH","g":"Taxane","y":33.4,"k":0.5},
{"p":"TH","g":"Taxane","y":31.7,"k":0},
{"p":"TH","g":"Taxane","y":25.45,"k":-0.5},{"p":"TH","g":"Taxane","y":25.45,"k":0.5},
{"p":"TT","g":"Aromatase","y":31.33,"k":0},
{"p":"TT","g":"Aromatase","y":23.33,"k":-0.5},{"p":"TT","g":"Aromatase","y":23.33,"k":0.5},
{"p":"TT","g":"Aromatase","y":19.07,"k":-1},{"p":"TT","g":"Aromatase","y":19.07,"k":0},{"p":"TT","g":"Aromatase","y":19.07,"k":1},
{"p":"TT","g":"Aromatase","y":17.83,"k":-0.5},{"p":"TT","g":"Aromatase","y":17.83,"k":0.5},
{"p":"TT","g":"Aromatase","y":17.0,"k":-0.5},{"p":"TT","g":"Aromatase","y":17.0,"k":0.5},
{"p":"TT","g":"Aromatase","y":16.0,"k":-0.5},{"p":"TT","g":"Aromatase","y":16.0,"k":0.5},
{"p":"TT","g":"Aromatase","y":14.0,"k":-1},{"p":"TT","g":"Aromatase","y":14.0,"k":0},{"p":"TT","g":"Aromatase","y":14.0,"k":1},
{"p":"TT","g":"Aromatase","y":12.93,"k":-1},{"p":"TT","g":"Aromatase","y":12.93,"k":0},{"p":"TT","g":"Aromatase","y":12.93,"k":1},
{"p":"TT","g":"Aromatase","y":12.0,"k":-3},{"p":"TT","g":"Aromatase","y":12.0,"k":-2},{"p":"TT","g":"Aromatase","y":12.0,"k":-1},{"p":"TT","g":"Aromatase","y":12.0,"k":0},{"p":"TT","g":"Aromatase","y":12.0,"k":1},{"p":"TT","g":"Aromatase","y":12.0,"k":2},{"p":"TT","g":"Aromatase","y":12.0,"k":3},
{"p":"TT","g":"Aromatase","y":10.67,"k":-4},{"p":"TT","g":"Aromatase","y":10.67,"k":-3},{"p":"TT","g":"Aromatase","y":10.67,"k":-2},{"p":"TT","g":"Aromatase","y":10.67,"k":-1},{"p":"TT","g":"Aromatase","y":10.67,"k":0},{"p":"TT","g":"Aromatase","y":10.67,"k":1},{"p":"TT","g":"Aromatase","y":10.67,"k":2},{"p":"TT","g":"Aromatase","y":10.67,"k":3},{"p":"TT","g":"Aromatase","y":10.67,"k":4},
{"p":"TT","g":"Aromatase","y":9.67,"k":-3},{"p":"TT","g":"Aromatase","y":9.67,"k":-2},{"p":"TT","g":"Aromatase","y":9.67,"k":-1},{"p":"TT","g":"Aromatase","y":9.67,"k":0},{"p":"TT","g":"Aromatase","y":9.67,"k":1},{"p":"TT","g":"Aromatase","y":9.67,"k":2},{"p":"TT","g":"Aromatase","y":9.67,"k":3},
{"p":"TT","g":"Aromatase","y":8.83,"k":-2.5},{"p":"TT","g":"Aromatase","y":8.83,"k":-1.5},{"p":"TT","g":"Aromatase","y":8.83,"k":-0.5},{"p":"TT","g":"Aromatase","y":8.83,"k":0.5},{"p":"TT","g":"Aromatase","y":8.83,"k":1.5},{"p":"TT","g":"Aromatase","y":8.83,"k":2.5},
{"p":"TT","g":"Aromatase","y":8.0,"k":-3.5},{"p":"TT","g":"Aromatase","y":8.0,"k":-2.5},{"p":"TT","g":"Aromatase","y":8.0,"k":-1.5},{"p":"TT","g":"Aromatase","y":8.0,"k":-0.5},{"p":"TT","g":"Aromatase","y":8.0,"k":0.5},{"p":"TT","g":"Aromatase","y":8.0,"k":1.5},{"p":"TT","g":"Aromatase","y":8.0,"k":2.5},{"p":"TT","g":"Aromatase","y":8.0,"k":3.5},
{"p":"TT","g":"Aromatase","y":6.67,"k":0},
{"p":"TT","g":"Taxane","y":14.93,"k":0},
{"p":"TT","g":"Taxane","y":12.4,"k":-0.5},{"p":"TT","g":"Taxane","y":12.4,"k":0.5},
{"p":"TT","g":"Taxane","y":10.73,"k":0},
{"p":"TT","g":"Taxane","y":9.33,"k":-0.5},{"p":"TT","g":"Taxane","y":9.33,"k":0.5},
{"p":"TT","g":"Taxane","y":7.67,"k":-1.5},{"p":"TT","g":"Taxane","y":7.67,"k":-0.5},{"p":"TT","g":"Taxane","y":7.67,"k":0.5},{"p":"TT","g":"Taxane","y":7.67,"k":1.5},
{"p":"TT","g":"Taxane","y":6.07,"k":-1.5},{"p":"TT","g":"Taxane","y":6.07,"k":-0.5},{"p":"TT","g":"Taxane","y":6.07,"k":0.5},{"p":"TT","g":"Taxane","y":6.07,"k":1.5},
{"p":"TT","g":"Taxane","y":4.83,"k":-1.5},{"p":"TT","g":"Taxane","y":4.83,"k":-0.5},{"p":"TT","g":"Taxane","y":4.83,"k":0.5},{"p":"TT","g":"Taxane","y":4.83,"k":1.5}
],
"stray": [{"p":"TT","g":"Aromatase","y":19.17,"k":-10.4}],
"means": [
{"p":"AH","g":"<50 years","y":43.0},{"p":"AH","g":"50-59 years","y":44.4},{"p":"AH","g":"60+ years","y":43.1},
{"p":"AT","g":"<50 years","y":9.33},{"p":"AT","g":"50-59 years","y":10.74},{"p":"AT","g":"60+ years","y":9.9},
{"p":"SH","g":"Surgery <1 year","y":43.9},{"p":"SH","g":"Surgery 1-5 years","y":43.3},{"p":"SH","g":"surgery >5 years","y":41.8},
{"p":"ST","g":"Surgery <1 year","y":9.17},{"p":"ST","g":"Surgery 1-5 years","y":12.0},{"p":"ST","g":"surgery >5 years","y":10.4},
{"p":"TH","g":"Aromatase","y":42.9},{"p":"TH","g":"Taxane","y":43.6},
{"p":"TT","g":"Aromatase","y":10.67},{"p":"TT","g":"Taxane","y":7.83}
],
"brackets": [
{"p":"AH","g":"<50 years","b":"60+ years","c":"50-59 years","span":1,"y":80.24,"yb":78.74,"label":"0.56"},
{"p":"AH","g":"50-59 years","b":"60+ years","c":"60+ years","span":0,"y":75.15,"yb":73.65,"label":"0.32"},
{"p":"AH","g":"<50 years","b":"50-59 years","c":"50-59 years","span":0,"y":69.88,"yb":68.56,"label":"0.26"},
{"p":"AT","g":"<50 years","b":"60+ years","c":"50-59 years","span":1,"y":39.23,"yb":38.39,"label":"0.31"},
{"p":"AT","g":"50-59 years","b":"60+ years","c":"60+ years","span":0,"y":35.97,"yb":35.13,"label":"0.21"},
{"p":"AT","g":"<50 years","b":"50-59 years","c":"50-59 years","span":0,"y":32.7,"yb":31.93,"label":"0.061"},
{"p":"SH","g":"Surgery <1 year","b":"surgery >5 years","c":"Surgery 1-5 years","span":1,"y":80.24,"yb":78.74,"label":"0.3"},
{"p":"SH","g":"Surgery 1-5 years","b":"surgery >5 years","c":"surgery >5 years","span":0,"y":75.14,"yb":73.63,"label":"0.17"},
{"p":"SH","g":"Surgery <1 year","b":"Surgery 1-5 years","c":"Surgery 1-5 years","span":0,"y":69.85,"yb":68.53,"label":"0.78"},
{"p":"ST","g":"Surgery <1 year","b":"surgery >5 years","c":"Surgery 1-5 years","span":1,"y":39.17,"yb":38.33,"label":"0.15"},
{"p":"ST","g":"Surgery 1-5 years","b":"surgery >5 years","c":"surgery >5 years","span":0,"y":35.93,"yb":35.07,"label":"0.037"},
{"p":"ST","g":"Surgery <1 year","b":"Surgery 1-5 years","c":"Surgery 1-5 years","span":0,"y":32.73,"yb":31.93,"label":"0.00048"},
{"p":"TH","g":"Aromatase","b":"Taxane","c":"Taxane","span":0,"y":70.0,"yb":68.5,"label":"0.75"},
{"p":"TT","g":"Aromatase","b":"Taxane","c":"Taxane","span":0,"y":32.77,"yb":31.93,"label":"2.4e-05"}
],
"tests": [
{"p":"AH","g":"<50 years","y":91.1,"label":"Kruskal-Wallis, p = 0.41"},
{"p":"AT","g":"<50 years","y":42.28,"label":"Kruskal-Wallis, p = 0.14"},
{"p":"SH","g":"Surgery <1 year","y":91.1,"label":"Kruskal-Wallis, p = 0.38"},
{"p":"ST","g":"Surgery <1 year","y":42.26,"label":"Kruskal-Wallis, p = 0.0015"},
{"p":"TH","g":"Aromatase","y":91.1,"label":"Wilcoxon, p = 0.91"},
{"p":"TT","g":"Aromatase","y":42.26,"label":"Wilcoxon, p = 3.3e-05"}
]
},
"spacing": 39,
"resolve": {"scale": {"xOffset": "independent"}},
"hconcat": [
{
 "title": {"text": "Age group", "font": "Lato", "fontSize": 27.5, "fontWeight": "bold", "anchor": "middle", "frame": "bounds", "offset": 46, "dx": -11},
 "spacing": 49,
 "resolve": {"scale": {"xOffset": "independent"}},
 "vconcat": [
  {
   "width": 395, "height": 434, "title": "Hydration",
   "encoding": {
     "x": {"field": "g", "type": "nominal", "title": null, "scale": {"domain": ["<50 years","50-59 years","60+ years"], "paddingInner": 0, "paddingOuter": 0.1}},
     "y": {"field": "y", "type": "quantitative", "title": null, "scale": {"domain": [20.06, 97.9], "nice": false, "zero": false}, "axis": {"values": [40, 60, 80]}}
   },
   "layer": [
    {"data": {"name": "violin"}, "transform": [{"filter": "datum.p == 'AH'"}], "mark": {"type": "line", "color": "#000", "strokeWidth": 1.1}, "encoding": {"xOffset": {"field": "r", "type": "quantitative", "scale": {"domain": [-7.41, 7.41]}}, "detail": {"field": "g"}, "order": {"field": "i"}}},
    {"data": {"name": "violin"}, "transform": [{"filter": "datum.p == 'AH'"}], "mark": {"type": "line", "color": "#000", "strokeWidth": 1.1}, "encoding": {"xOffset": {"field": "l", "type": "quantitative", "scale": {"domain": [-7.41, 7.41]}}, "detail": {"field": "g"}, "order": {"field": "i"}}},
    {"data": {"name": "dots"}, "transform": [{"filter": "datum.p == 'AH'"}], "mark": {"type": "circle", "color": "#000", "size": 69, "opacity": 1}, "encoding": {"xOffset": {"field": "k", "type": "quantitative", "scale": {"domain": [-7.41, 7.41]}}}},
    {"data": {"name": "means"}, "transform": [{"filter": "datum.p == 'AH'"}], "mark": {"type": "circle", "color": "#ff0000", "size": 175, "opacity": 1}},
    {"data": {"name": "brackets"}, "transform": [{"filter": "datum.p == 'AH'"}], "mark": {"type": "rule", "color": "#333", "strokeWidth": 1}, "encoding": {"x2": {"field": "b"}}},
    {"data": {"name": "brackets"}, "transform": [{"filter": "datum.p == 'AH'"}], "mark": {"type": "rule", "color": "#333", "strokeWidth": 1}, "encoding": {"y2": {"field": "yb"}}},
    {"data": {"name": "brackets"}, "transform": [{"filter": "datum.p == 'AH'"}], "mark": {"type": "rule", "color": "#333", "strokeWidth": 1}, "encoding": {"x": {"field": "b", "type": "nominal", "title": null, "scale": {"domain": ["<50 years","50-59 years","60+ years"]}}, "y2": {"field": "yb"}}},
    {"data": {"name": "brackets"}, "transform": [{"filter": "datum.p == 'AH' && datum.span == 0"}], "mark": {"type": "text", "fontSize": 17, "color": "#000", "baseline": "alphabetic", "dy": -4}, "encoding": {"x": {"field": "c", "type": "nominal", "title": null, "bandPosition": 0, "scale": {"domain": ["<50 years","50-59 years","60+ years"]}}, "text": {"field": "label"}}},
    {"data": {"name": "brackets"}, "transform": [{"filter": "datum.p == 'AH' && datum.span == 1"}], "mark": {"type": "text", "fontSize": 17, "color": "#000", "baseline": "alphabetic", "dy": -4}, "encoding": {"x": {"field": "c", "type": "nominal", "title": null, "bandPosition": 0.5, "scale": {"domain": ["<50 years","50-59 years","60+ years"]}}, "text": {"field": "label"}}},
    {"data": {"name": "tests"}, "transform": [{"filter": "datum.p == 'AH'"}], "mark": {"type": "text", "fontSize": 17, "color": "#000", "align": "left", "baseline": "alphabetic"}, "encoding": {"x": {"field": "g", "type": "nominal", "title": null, "bandPosition": 0.2, "scale": {"domain": ["<50 years","50-59 years","60+ years"]}}, "text": {"field": "label"}}}
   ]
  },
  {
   "width": 395, "height": 434, "title": "TEWL",
   "encoding": {
     "x": {"field": "g", "type": "nominal", "title": null, "scale": {"domain": ["<50 years","50-59 years","60+ years"], "paddingInner": 0, "paddingOuter": 0.1}},
     "y": {"field": "y", "type": "quantitative", "title": null, "scale": {"domain": [1.99, 45.79], "nice": false, "zero": false}, "axis": {"values": [10, 20, 30, 40]}}
   },
   "layer": [
    {"data": {"name": "violin"}, "transform": [{"filter": "datum.p == 'AT'"}], "mark": {"type": "line", "color": "#000", "strokeWidth": 1.1}, "encoding": {"xOffset": {"field": "r", "type": "quantitative", "scale": {"domain": [-7.41, 7.41]}}, "detail": {"field": "g"}, "order": {"field": "i"}}},
    {"data": {"name": "violin"}, "transform": [{"filter": "datum.p == 'AT'"}], "mark": {"type": "line", "color": "#000", "strokeWidth": 1.1}, "encoding": {"xOffset": {"field": "l", "type": "quantitative", "scale": {"domain": [-7.41, 7.41]}}, "detail": {"field": "g"}, "order": {"field": "i"}}},
    {"data": {"name": "dots"}, "transform": [{"filter": "datum.p == 'AT'"}], "mark": {"type": "circle", "color": "#000", "size": 69, "opacity": 1}, "encoding": {"xOffset": {"field": "k", "type": "quantitative", "scale": {"domain": [-7.41, 7.41]}}}},
    {"data": {"name": "means"}, "transform": [{"filter": "datum.p == 'AT'"}], "mark": {"type": "circle", "color": "#ff0000", "size": 175, "opacity": 1}},
    {"data": {"name": "brackets"}, "transform": [{"filter": "datum.p == 'AT'"}], "mark": {"type": "rule", "color": "#333", "strokeWidth": 1}, "encoding": {"x2": {"field": "b"}}},
    {"data": {"name": "brackets"}, "transform": [{"filter": "datum.p == 'AT'"}], "mark": {"type": "rule", "color": "#333", "strokeWidth": 1}, "encoding": {"y2": {"field": "yb"}}},
    {"data": {"name": "brackets"}, "transform": [{"filter": "datum.p == 'AT'"}], "mark": {"type": "rule", "color": "#333", "strokeWidth": 1}, "encoding": {"x": {"field": "b", "type": "nominal", "title": null, "scale": {"domain": ["<50 years","50-59 years","60+ years"]}}, "y2": {"field": "yb"}}},
    {"data": {"name": "brackets"}, "transform": [{"filter": "datum.p == 'AT' && datum.span == 0"}], "mark": {"type": "text", "fontSize": 17, "color": "#000", "baseline": "alphabetic", "dy": -4}, "encoding": {"x": {"field": "c", "type": "nominal", "title": null, "bandPosition": 0, "scale": {"domain": ["<50 years","50-59 years","60+ years"]}}, "text": {"field": "label"}}},
    {"data": {"name": "brackets"}, "transform": [{"filter": "datum.p == 'AT' && datum.span == 1"}], "mark": {"type": "text", "fontSize": 17, "color": "#000", "baseline": "alphabetic", "dy": -4}, "encoding": {"x": {"field": "c", "type": "nominal", "title": null, "bandPosition": 0.5, "scale": {"domain": ["<50 years","50-59 years","60+ years"]}}, "text": {"field": "label"}}},
    {"data": {"name": "tests"}, "transform": [{"filter": "datum.p == 'AT'"}], "mark": {"type": "text", "fontSize": 17, "color": "#000", "align": "left", "baseline": "alphabetic"}, "encoding": {"x": {"field": "g", "type": "nominal", "title": null, "bandPosition": 0.2, "scale": {"domain": ["<50 years","50-59 years","60+ years"]}}, "text": {"field": "label"}}}
   ]
  }
 ]
},
{
 "title": {"text": "Years since surgery", "font": "Lato", "fontSize": 27.5, "fontWeight": "bold", "anchor": "middle", "frame": "bounds", "offset": 46, "dx": -11},
 "spacing": 49,
 "resolve": {"scale": {"xOffset": "independent"}},
 "vconcat": [
  {
   "width": 395, "height": 434, "title": "Hydration",
   "encoding": {
     "x": {"field": "g", "type": "nominal", "title": null, "scale": {"domain": ["Surgery <1 year","Surgery 1-5 years","surgery >5 years"], "paddingInner": 0, "paddingOuter": 0.1}},
     "y": {"field": "y", "type": "quantitative", "title": null, "scale": {"domain": [20.06, 97.9], "nice": false, "zero": false}, "axis": {"values": [40, 60, 80]}}
   },
   "layer": [
    {"data": {"name": "violin"}, "transform": [{"filter": "datum.p == 'SH'"}], "mark": {"type": "line", "color": "#000", "strokeWidth": 1.1}, "encoding": {"xOffset": {"field": "r", "type": "quantitative", "scale": {"domain": [-7.41, 7.41]}}, "detail": {"field": "g"}, "order": {"field": "i"}}},
    {"data": {"name": "violin"}, "transform": [{"filter": "datum.p == 'SH'"}], "mark": {"type": "line", "color": "#000", "strokeWidth": 1.1}, "encoding": {"xOffset": {"field": "l", "type": "quantitative", "scale": {"domain": [-7.41, 7.41]}}, "detail": {"field": "g"}, "order": {"field": "i"}}},
    {"data": {"name": "dots"}, "transform": [{"filter": "datum.p == 'SH'"}], "mark": {"type": "circle", "color": "#000", "size": 69, "opacity": 1}, "encoding": {"xOffset": {"field": "k", "type": "quantitative", "scale": {"domain": [-7.41, 7.41]}}}},
    {"data": {"name": "means"}, "transform": [{"filter": "datum.p == 'SH'"}], "mark": {"type": "circle", "color": "#ff0000", "size": 175, "opacity": 1}},
    {"data": {"name": "brackets"}, "transform": [{"filter": "datum.p == 'SH'"}], "mark": {"type": "rule", "color": "#333", "strokeWidth": 1}, "encoding": {"x2": {"field": "b"}}},
    {"data": {"name": "brackets"}, "transform": [{"filter": "datum.p == 'SH'"}], "mark": {"type": "rule", "color": "#333", "strokeWidth": 1}, "encoding": {"y2": {"field": "yb"}}},
    {"data": {"name": "brackets"}, "transform": [{"filter": "datum.p == 'SH'"}], "mark": {"type": "rule", "color": "#333", "strokeWidth": 1}, "encoding": {"x": {"field": "b", "type": "nominal", "title": null, "scale": {"domain": ["Surgery <1 year","Surgery 1-5 years","surgery >5 years"]}}, "y2": {"field": "yb"}}},
    {"data": {"name": "brackets"}, "transform": [{"filter": "datum.p == 'SH' && datum.span == 0"}], "mark": {"type": "text", "fontSize": 17, "color": "#000", "baseline": "alphabetic", "dy": -4}, "encoding": {"x": {"field": "c", "type": "nominal", "title": null, "bandPosition": 0, "scale": {"domain": ["Surgery <1 year","Surgery 1-5 years","surgery >5 years"]}}, "text": {"field": "label"}}},
    {"data": {"name": "brackets"}, "transform": [{"filter": "datum.p == 'SH' && datum.span == 1"}], "mark": {"type": "text", "fontSize": 17, "color": "#000", "baseline": "alphabetic", "dy": -4}, "encoding": {"x": {"field": "c", "type": "nominal", "title": null, "bandPosition": 0.5, "scale": {"domain": ["Surgery <1 year","Surgery 1-5 years","surgery >5 years"]}}, "text": {"field": "label"}}},
    {"data": {"name": "tests"}, "transform": [{"filter": "datum.p == 'SH'"}], "mark": {"type": "text", "fontSize": 17, "color": "#000", "align": "left", "baseline": "alphabetic"}, "encoding": {"x": {"field": "g", "type": "nominal", "title": null, "bandPosition": 0.2, "scale": {"domain": ["Surgery <1 year","Surgery 1-5 years","surgery >5 years"]}}, "text": {"field": "label"}}}
   ]
  },
  {
   "width": 395, "height": 434, "title": "TEWL",
   "encoding": {
     "x": {"field": "g", "type": "nominal", "title": null, "scale": {"domain": ["Surgery <1 year","Surgery 1-5 years","surgery >5 years"], "paddingInner": 0, "paddingOuter": 0.1}},
     "y": {"field": "y", "type": "quantitative", "title": null, "scale": {"domain": [2.33, 45.73], "nice": false, "zero": false}, "axis": {"values": [10, 20, 30, 40]}}
   },
   "layer": [
    {"data": {"name": "violin"}, "transform": [{"filter": "datum.p == 'ST'"}], "mark": {"type": "line", "color": "#000", "strokeWidth": 1.1}, "encoding": {"xOffset": {"field": "r", "type": "quantitative", "scale": {"domain": [-7.41, 7.41]}}, "detail": {"field": "g"}, "order": {"field": "i"}}},
    {"data": {"name": "violin"}, "transform": [{"filter": "datum.p == 'ST'"}], "mark": {"type": "line", "color": "#000", "strokeWidth": 1.1}, "encoding": {"xOffset": {"field": "l", "type": "quantitative", "scale": {"domain": [-7.41, 7.41]}}, "detail": {"field": "g"}, "order": {"field": "i"}}},
    {"data": {"name": "dots"}, "transform": [{"filter": "datum.p == 'ST'"}], "mark": {"type": "circle", "color": "#000", "size": 69, "opacity": 1}, "encoding": {"xOffset": {"field": "k", "type": "quantitative", "scale": {"domain": [-7.41, 7.41]}}}},
    {"data": {"name": "means"}, "transform": [{"filter": "datum.p == 'ST'"}], "mark": {"type": "circle", "color": "#ff0000", "size": 175, "opacity": 1}},
    {"data": {"name": "brackets"}, "transform": [{"filter": "datum.p == 'ST'"}], "mark": {"type": "rule", "color": "#333", "strokeWidth": 1}, "encoding": {"x2": {"field": "b"}}},
    {"data": {"name": "brackets"}, "transform": [{"filter": "datum.p == 'ST'"}], "mark": {"type": "rule", "color": "#333", "strokeWidth": 1}, "encoding": {"y2": {"field": "yb"}}},
    {"data": {"name": "brackets"}, "transform": [{"filter": "datum.p == 'ST'"}], "mark": {"type": "rule", "color": "#333", "strokeWidth": 1}, "encoding": {"x": {"field": "b", "type": "nominal", "title": null, "scale": {"domain": ["Surgery <1 year","Surgery 1-5 years","surgery >5 years"]}}, "y2": {"field": "yb"}}},
    {"data": {"name": "brackets"}, "transform": [{"filter": "datum.p == 'ST' && datum.span == 0"}], "mark": {"type": "text", "fontSize": 17, "color": "#000", "baseline": "alphabetic", "dy": -4}, "encoding": {"x": {"field": "c", "type": "nominal", "title": null, "bandPosition": 0, "scale": {"domain": ["Surgery <1 year","Surgery 1-5 years","surgery >5 years"]}}, "text": {"field": "label"}}},
    {"data": {"name": "brackets"}, "transform": [{"filter": "datum.p == 'ST' && datum.span == 1"}], "mark": {"type": "text", "fontSize": 17, "color": "#000", "baseline": "alphabetic", "dy": -4}, "encoding": {"x": {"field": "c", "type": "nominal", "title": null, "bandPosition": 0.5, "scale": {"domain": ["Surgery <1 year","Surgery 1-5 years","surgery >5 years"]}}, "text": {"field": "label"}}},
    {"data": {"name": "tests"}, "transform": [{"filter": "datum.p == 'ST'"}], "mark": {"type": "text", "fontSize": 17, "color": "#000", "align": "left", "baseline": "alphabetic"}, "encoding": {"x": {"field": "g", "type": "nominal", "title": null, "bandPosition": 0.165, "scale": {"domain": ["Surgery <1 year","Surgery 1-5 years","surgery >5 years"]}}, "text": {"field": "label"}}}
   ]
  }
 ]
},
{
 "title": {"text": "Treatment", "font": "Lato", "fontSize": 27.5, "fontWeight": "bold", "anchor": "middle", "frame": "bounds", "offset": 46, "dx": -11},
 "spacing": 49,
 "resolve": {"scale": {"xOffset": "independent"}},
 "vconcat": [
  {
   "width": 395, "height": 434, "title": "Hydration",
   "encoding": {
     "x": {"field": "g", "type": "nominal", "title": null, "scale": {"domain": ["Aromatase","Taxane"], "paddingInner": 0, "paddingOuter": 0.1}},
     "y": {"field": "y", "type": "quantitative", "title": null, "scale": {"domain": [20.06, 97.9], "nice": false, "zero": false}, "axis": {"values": [40, 60, 80]}}
   },
   "layer": [
    {"data": {"name": "violin"}, "transform": [{"filter": "datum.p == 'TH'"}], "mark": {"type": "line", "color": "#000", "strokeWidth": 1.1}, "encoding": {"xOffset": {"field": "r", "type": "quantitative", "scale": {"domain": [-10.78, 10.78]}}, "detail": {"field": "g"}, "order": {"field": "i"}}},
    {"data": {"name": "violin"}, "transform": [{"filter": "datum.p == 'TH'"}], "mark": {"type": "line", "color": "#000", "strokeWidth": 1.1}, "encoding": {"xOffset": {"field": "l", "type": "quantitative", "scale": {"domain": [-10.78, 10.78]}}, "detail": {"field": "g"}, "order": {"field": "i"}}},
    {"data": {"name": "dots"}, "transform": [{"filter": "datum.p == 'TH'"}], "mark": {"type": "circle", "color": "#000", "size": 69, "opacity": 1}, "encoding": {"xOffset": {"field": "k", "type": "quantitative", "scale": {"domain": [-10.78, 10.78]}}}},
    {"data": {"name": "means"}, "transform": [{"filter": "datum.p == 'TH'"}], "mark": {"type": "circle", "color": "#ff0000", "size": 175, "opacity": 1}},
    {"data": {"name": "brackets"}, "transform": [{"filter": "datum.p == 'TH'"}], "mark": {"type": "rule", "color": "#333", "strokeWidth": 1}, "encoding": {"x2": {"field": "b"}}},
    {"data": {"name": "brackets"}, "transform": [{"filter": "datum.p == 'TH'"}], "mark": {"type": "rule", "color": "#333", "strokeWidth": 1}, "encoding": {"y2": {"field": "yb"}}},
    {"data": {"name": "brackets"}, "transform": [{"filter": "datum.p == 'TH'"}], "mark": {"type": "rule", "color": "#333", "strokeWidth": 1}, "encoding": {"x": {"field": "b", "type": "nominal", "title": null, "scale": {"domain": ["Aromatase","Taxane"]}}, "y2": {"field": "yb"}}},
    {"data": {"name": "brackets"}, "transform": [{"filter": "datum.p == 'TH'"}], "mark": {"type": "text", "fontSize": 17, "color": "#000", "baseline": "alphabetic", "dy": -4}, "encoding": {"x": {"field": "c", "type": "nominal", "title": null, "bandPosition": 0, "scale": {"domain": ["Aromatase","Taxane"]}}, "text": {"field": "label"}}},
    {"data": {"name": "tests"}, "transform": [{"filter": "datum.p == 'TH'"}], "mark": {"type": "text", "fontSize": 17, "color": "#000", "align": "left", "baseline": "alphabetic"}, "encoding": {"x": {"field": "g", "type": "nominal", "title": null, "bandPosition": 0.34, "scale": {"domain": ["Aromatase","Taxane"]}}, "text": {"field": "label"}}}
   ]
  },
  {
   "width": 395, "height": 434, "title": "TEWL",
   "encoding": {
     "x": {"field": "g", "type": "nominal", "title": null, "scale": {"domain": ["Aromatase","Taxane"], "paddingInner": 0, "paddingOuter": 0.1}},
     "y": {"field": "y", "type": "quantitative", "title": null, "scale": {"domain": [2.33, 45.73], "nice": false, "zero": false}, "axis": {"values": [10, 20, 30, 40]}}
   },
   "layer": [
    {"data": {"name": "violin"}, "transform": [{"filter": "datum.p == 'TT'"}], "mark": {"type": "line", "color": "#000", "strokeWidth": 1.1}, "encoding": {"xOffset": {"field": "r", "type": "quantitative", "scale": {"domain": [-10.78, 10.78]}}, "detail": {"field": "g"}, "order": {"field": "i"}}},
    {"data": {"name": "violin"}, "transform": [{"filter": "datum.p == 'TT'"}], "mark": {"type": "line", "color": "#000", "strokeWidth": 1.1}, "encoding": {"xOffset": {"field": "l", "type": "quantitative", "scale": {"domain": [-10.78, 10.78]}}, "detail": {"field": "g"}, "order": {"field": "i"}}},
    {"data": {"name": "dots"}, "transform": [{"filter": "datum.p == 'TT'"}], "mark": {"type": "circle", "color": "#000", "size": 69, "opacity": 1}, "encoding": {"xOffset": {"field": "k", "type": "quantitative", "scale": {"domain": [-10.78, 10.78]}}}},
    {"data": {"name": "stray"}, "mark": {"type": "circle", "color": "#000", "size": 10, "opacity": 1}, "encoding": {"xOffset": {"field": "k", "type": "quantitative", "scale": {"domain": [-10.78, 10.78]}}}},
    {"data": {"name": "means"}, "transform": [{"filter": "datum.p == 'TT'"}], "mark": {"type": "circle", "color": "#ff0000", "size": 175, "opacity": 1}},
    {"data": {"name": "brackets"}, "transform": [{"filter": "datum.p == 'TT'"}], "mark": {"type": "rule", "color": "#333", "strokeWidth": 1}, "encoding": {"x2": {"field": "b"}}},
    {"data": {"name": "brackets"}, "transform": [{"filter": "datum.p == 'TT'"}], "mark": {"type": "rule", "color": "#333", "strokeWidth": 1}, "encoding": {"y2": {"field": "yb"}}},
    {"data": {"name": "brackets"}, "transform": [{"filter": "datum.p == 'TT'"}], "mark": {"type": "rule", "color": "#333", "strokeWidth": 1}, "encoding": {"x": {"field": "b", "type": "nominal", "title": null, "scale": {"domain": ["Aromatase","Taxane"]}}, "y2": {"field": "yb"}}},
    {"data": {"name": "brackets"}, "transform": [{"filter": "datum.p == 'TT'"}], "mark": {"type": "text", "fontSize": 17, "color": "#000", "baseline": "alphabetic", "dy": -4}, "encoding": {"x": {"field": "c", "type": "nominal", "title": null, "bandPosition": 0, "scale": {"domain": ["Aromatase","Taxane"]}}, "text": {"field": "label"}}},
    {"data": {"name": "tests"}, "transform": [{"filter": "datum.p == 'TT'"}], "mark": {"type": "text", "fontSize": 17, "color": "#000", "align": "left", "baseline": "alphabetic"}, "encoding": {"x": {"field": "g", "type": "nominal", "title": null, "bandPosition": 0.31, "scale": {"domain": ["Aromatase","Taxane"]}}, "text": {"field": "label"}}}
   ]
  }
 ]
}
]
}
